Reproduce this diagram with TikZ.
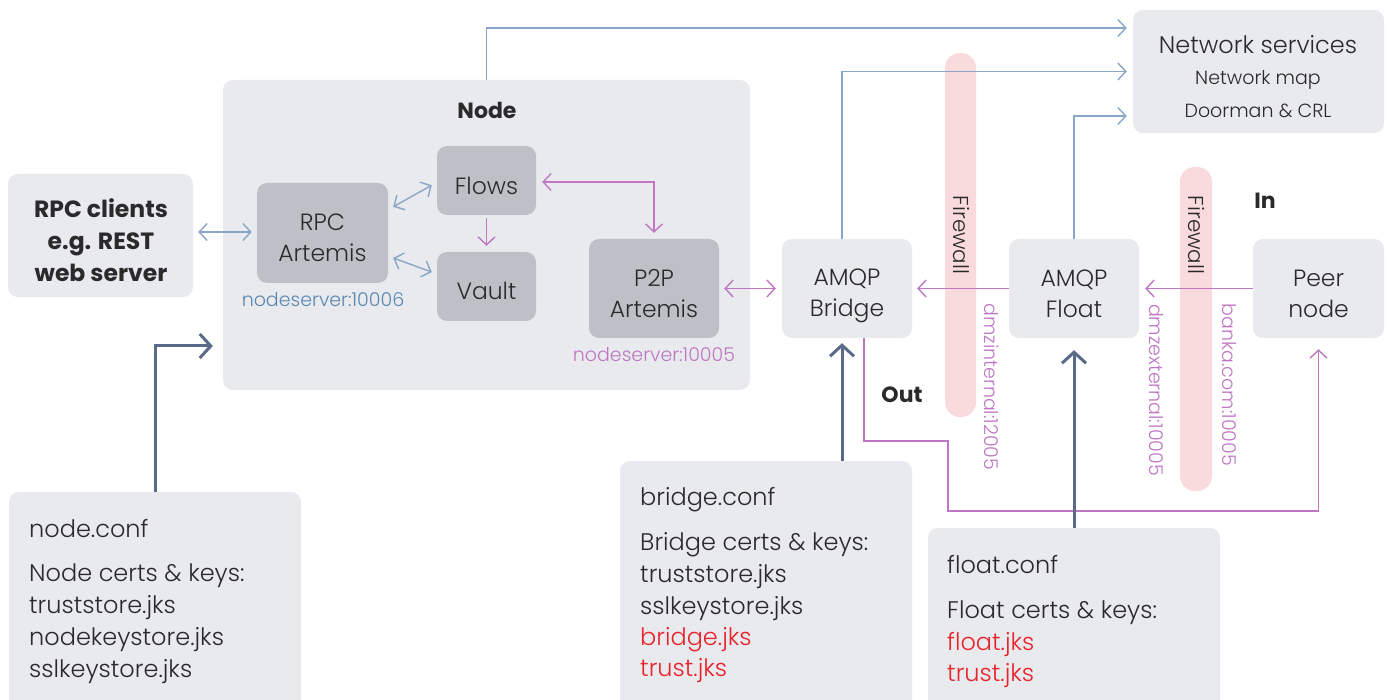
\documentclass[tikz,border=0pt]{standalone}
\usepackage{fontspec}
\setmainfont{Poppins}
\IfFontExistsTF{Poppins Light}{\newfontfamily\lightfont{Poppins Light}}{\newfontfamily\lightfont{Poppins}}
\usetikzlibrary{arrows.meta,calc}
\definecolor{boxbg}{HTML}{E9EAEE}
\definecolor{inner}{HTML}{BDC1C7}
\definecolor{txt}{HTML}{2A2A2A}
\definecolor{lblue}{HTML}{8AA6C6}
\definecolor{tblue}{HTML}{5A87B2}
\definecolor{purp}{HTML}{BF77C4}
\definecolor{slate}{HTML}{5B6A88}
\definecolor{fwpink}{HTML}{F9DADD}
\definecolor{jksred}{HTML}{E8232B}
\tikzset{
  box/.style={fill=boxbg, rounded corners=10pt, inner sep=0pt},
  ibox/.style={fill=inner, rounded corners=10pt, inner sep=0pt},
  btxt/.style={inner sep=0pt, align=center, text=txt, font=\lightfont\fontsize{23.5}{31}\selectfont},
  conftxt/.style={anchor=base west, inner sep=0pt, text=txt, font=\lightfont\fontsize{24}{31}\selectfont},
  redtxt/.style={conftxt, text=jksred},
  firewall/.style={fill=fwpink, rounded corners=15pt},
  fwlabel/.style={rotate=-90, inner sep=0pt, text=txt, font=\lightfont\fontsize{21.5}{25}\selectfont},
  portlabel/.style={inner sep=0pt, font=\lightfont\fontsize{19}{22}\selectfont},
  boldlbl/.style={inner sep=0pt, text=txt, font=\fontsize{22}{26}\selectfont\bfseries},
  thinbar/.style={line width=1.4pt, arrows={-Straight Barb[length=8pt,width=17pt]}},
  bl/.style={thinbar, draw=lblue},
  pu/.style={thinbar, draw=purp},
  both/.style={arrows={Straight Barb[length=8pt,width=17pt]-Straight Barb[length=8pt,width=17pt]}},
  conf/.style={draw=slate, line width=3pt, arrows={-Straight Barb[length=11pt,width=24pt]}},
}
\begin{document}
\begin{tikzpicture}[x=1pt,y=-1pt]
\clip (0,0) rectangle (1389,700);
\fill[white] (0,0) rectangle (1389,700);

% containers
\node[box, minimum width=527pt, minimum height=310pt] (nodebox) at (486.5,235) {};
\node[boldlbl] (nodettl) at (487,110) {Node};
\node[box, minimum width=185pt, minimum height=123pt] (rpcc) at (100.5,235.5) {};
\node[inner sep=0pt, align=center, text=txt, font=\fontsize{23.5}{32}\selectfont\bfseries] (rpcct) at (101,240) {RPC clients\\e.g. REST\\web server};
\node[box, minimum width=251pt, minimum height=123pt] (ns) at (1258.5,71.5) {};
\node[inner sep=0pt, text=txt, font=\lightfont\fontsize{24}{26}\selectfont] (ns1) at (1258,45) {Network services};
\node[inner sep=0pt, text=txt, font=\lightfont\fontsize{19}{22}\selectfont] (ns2) at (1258,80) {Network map};
\node[inner sep=0pt, text=txt, font=\lightfont\fontsize{19}{22}\selectfont] (ns3) at (1258,111) {Doorman \& CRL};

% firewalls
\path[firewall] (945,53) rectangle (976,417);
\path[firewall] (1180,167) rectangle (1212,491);
\node[fwlabel] (fw1) at (961,235) {Firewall};
\node[fwlabel] (fw2) at (1196,235) {Firewall};

% inner nodes
\node[ibox, minimum width=131pt, minimum height=100pt] (rpca) at (322.5,233) {};
\node[btxt] (rpcat) at ($(rpca)+(0,5)$) {RPC\\Artemis};
\node[ibox, minimum width=99pt, minimum height=69pt] (flows) at (486.5,180.5) {};
\node[btxt] (flowst) at ($(flows)+(0,5)$) {Flows};
\node[ibox, minimum width=99pt, minimum height=69pt] (vault) at (486.5,286.5) {};
\node[btxt] (vaultt) at ($(vault)+(0,4)$) {Vault};
\node[ibox, minimum width=130pt, minimum height=99pt] (p2p) at (654,288.5) {};
\node[btxt] (p2pt) at ($(p2p)+(0,5)$) {P2P\\Artemis};
\node[portlabel, text=tblue] (port6) at (323,300) {nodeserver:10006};
\node[portlabel, text=purp] (port5) at (654,355) {nodeserver:10005};

\node[box, minimum width=130pt, minimum height=99pt] (bridge) at (847,288.5) {};
\node[btxt] (bridget) at ($(bridge)+(0,7)$) {AMQP\\Bridge};
\node[box, minimum width=130pt, minimum height=99pt] (float) at (1074,288.5) {};
\node[btxt] (floatt) at ($(float)+(0,5)$) {AMQP\\Float};
\node[box, minimum width=131pt, minimum height=99pt] (peer) at (1318.5,288.5) {};
\node[btxt] (peert) at ($(peer)+(0,5)$) {Peer\\node};

\node[boldlbl] (inl) at (1265,201) {In};
\node[boldlbl] (outl) at (902,395) {Out};

\node[portlabel, text=purp, rotate=-90] (dmzi) at (992,387) {dmzinternal:12005};
\node[portlabel, text=purp, rotate=-90] (dmze) at (1156,390) {dmzexternal:10005};
\node[portlabel, text=purp, rotate=-90] (banka) at (1229,385) {banka.com:10005};

% config boxes
\path[fill=boxbg, rounded corners=10pt] (9,492) rectangle (301,720);
\node[inner sep=0pt, minimum width=292pt, minimum height=1pt] (nodeconf) at (155,492) {};
\node[conftxt] (nc1) at (29,537) {node.conf};
\node[conftxt] (nc2) at (29,581) {Node certs \& keys:};
\node[conftxt] (nc3) at (29,613) {truststore.jks};
\node[conftxt] (nc4) at (29,645) {nodekeystore.jks};
\node[conftxt] (nc5) at (29,677) {sslkeystore.jks};

\path[fill=boxbg, rounded corners=10pt] (620,461) rectangle (912,720);
\node[inner sep=0pt, minimum width=292pt, minimum height=1pt] (bridgeconf) at (766,461) {};
\node[conftxt] (bc1) at (640,505) {bridge.conf};
\node[conftxt] (bc2) at (640,550) {Bridge certs \& keys:};
\node[conftxt] (bc3) at (640,582) {truststore.jks};
\node[conftxt] (bc4) at (640,614) {sslkeystore.jks};
\node[redtxt] (bc5) at (640,645) {bridge.jks};
\node[redtxt] (bc6) at (640,676) {trust.jks};

\path[fill=boxbg, rounded corners=10pt] (928,528) rectangle (1220,720);
\node[inner sep=0pt, minimum width=292pt, minimum height=1pt] (floatconf) at (1074,528) {};
\node[conftxt] (fc1) at (947,573) {float.conf};
\node[conftxt] (fc2) at (947,618) {Float certs \& keys:};
\node[redtxt] (fc3) at (947,650) {float.jks};
\node[redtxt] (fc4) at (947,681) {trust.jks};

% blue connectors
\draw[bl, both] ($(rpcc.east |- rpca)+(5,-1)$) -- ($(rpca.west)+(-5,-1)$);
\draw[bl, both] ($(rpca.north east)+(5,24)$) -- ($(flows.south west)+(-5,-30)$);
\draw[bl, both] ($(rpca.east)+(5,25)$) -- ($(vault.west)+(-5,-14.5)$);
\draw[bl] (nodebox.north -| flows) |- ($(ns.west)+(-6,-43.5)$);
\draw[bl] ($(bridge.north)+(-5,0)$) |- ($(ns.west)+(-6,0)$);
\draw[bl] (float.north) |- ($(ns.west)+(-6,44.5)$);

% purple connectors
\draw[pu] ($(flows.south)+(0,3)$) -- ($(vault.north)+(0,-6)$);
\draw[pu, both] ($(flows.east)+(6,1.5)$) -| ($(p2p.north)+(0,-6)$);
\draw[pu, both] ($(p2p.east)+(5,0)$) -- ($(bridge.west)+(-6,0)$);
\draw[pu] (float.west) -- ($(bridge.east)+(5,0)$);
\draw[pu] (peer.west) -- ($(float.east)+(6,0)$);
\coordinate (b1) at (948,441);
\coordinate (b2) at (948,511);
\draw[pu] ($(bridge.south)+(17,0)$) |- (b1) -- (b2) -| ($(peer.south)+(0,11)$);

% config arrows
\draw[conf] (nodeconf.center) |- ($(nodebox.west)+(-10,111)$);
\coordinate (bx) at ($(bridge.south)+(-5,5)$);
\draw[conf] (bridgeconf.center -| bx) -- (bx);
\draw[conf] (floatconf.center) -- ($(float.south)+(0,12)$);
\end{tikzpicture}
\end{document}
